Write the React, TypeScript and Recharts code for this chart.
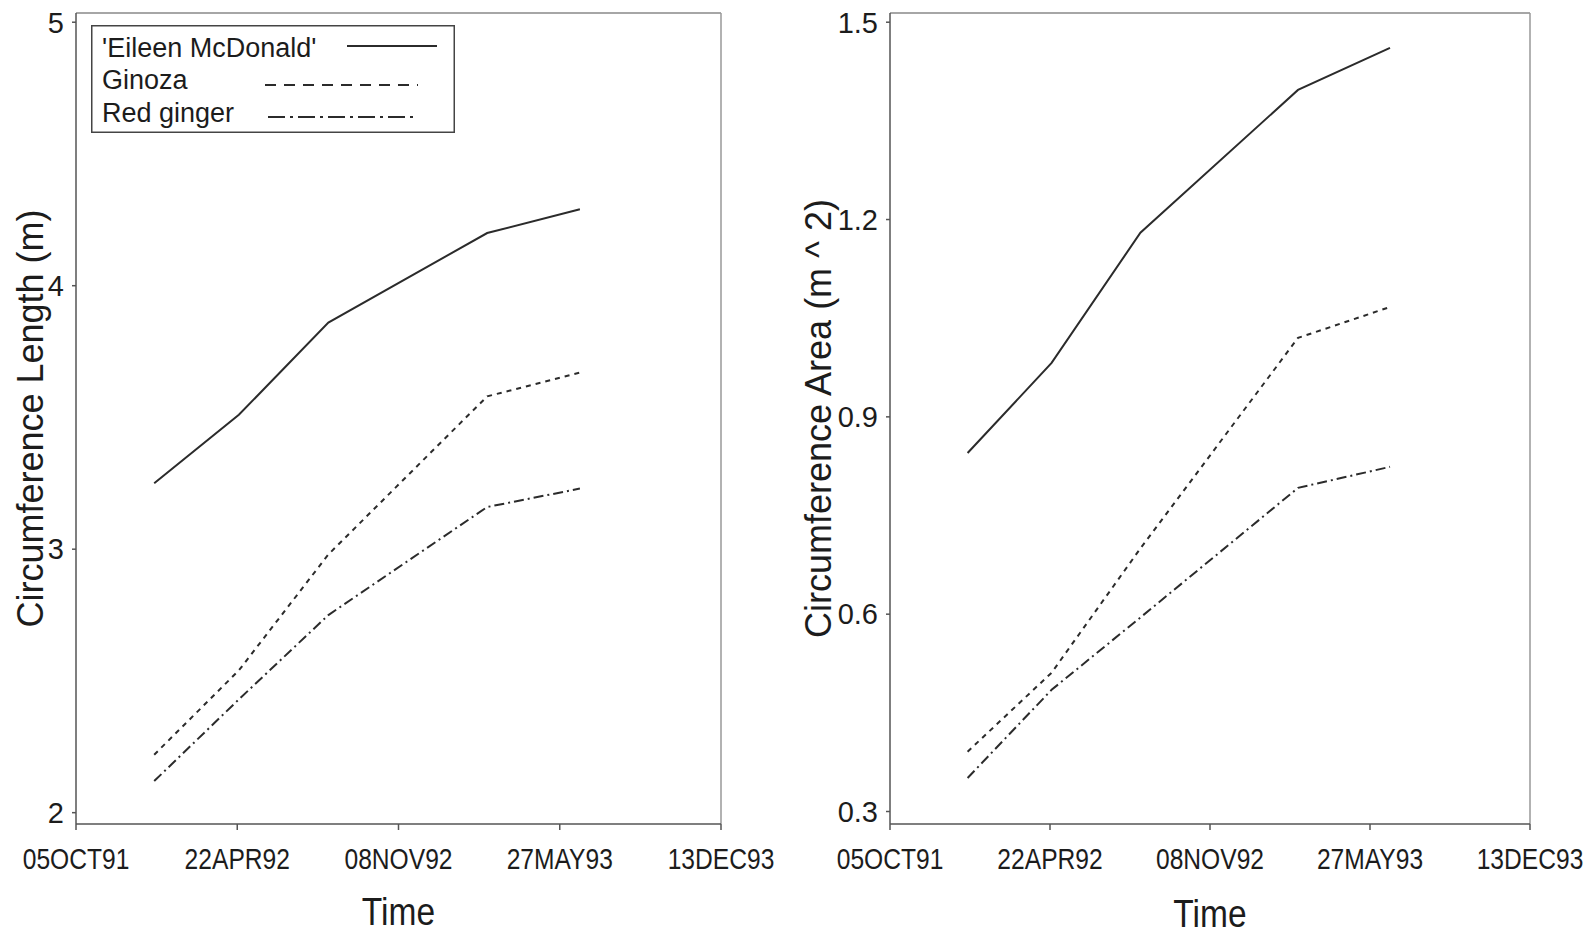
import { LineChart, Line, XAxis, YAxis, Legend, Label, ReferenceLine } from "recharts";

const MONTHS = ["JAN", "FEB", "MAR", "APR", "MAY", "JUN", "JUL", "AUG", "SEP", "OCT", "NOV", "DEC"];

const sampleDates = ["1992-01-10", "1992-04-24", "1992-08-13", "1993-02-26", "1993-06-21"];
const timeTicks = ["1991-10-05", "1992-04-22", "1992-11-08", "1993-05-27", "1993-12-13"];

const lengthEileen = [3.25, 3.51, 3.86, 4.2, 4.29];
const lengthGinoza = [2.22, 2.54, 2.98, 3.58, 3.67];
const lengthRed = [2.12, 2.43, 2.75, 3.16, 3.23];
const lengthTicks = [2, 3, 4, 5];

const areaEileen = [0.845, 0.982, 1.18, 1.397, 1.461];
const areaGinoza = [0.391, 0.511, 0.7, 1.02, 1.067];
const areaRed = [0.351, 0.485, 0.595, 0.792, 0.824];
const areaTicks = [0.3, 0.6, 0.9, 1.2, 1.5];

const seriesNames = ["'Eileen McDonald'", "Ginoza", "Red ginger"];

const toT = (s: string) => Date.parse(s + "T00:00:00Z");
const xTicks = timeTicks.map(toT);
const xDomain = [xTicks[0], xTicks[xTicks.length - 1]];

const fmtDate = (t: number) => {
  const d = new Date(t);
  return (
    String(d.getUTCDate()).padStart(2, "0") +
    MONTHS[d.getUTCMonth()] +
    String(d.getUTCFullYear()).slice(2)
  );
};

const lengthData = sampleDates.map((s, i) => ({
  t: toT(s),
  eileen: lengthEileen[i],
  ginoza: lengthGinoza[i],
  red: lengthRed[i],
}));

const areaData = sampleDates.map((s, i) => ({
  t: toT(s),
  eileen: areaEileen[i],
  ginoza: areaGinoza[i],
  red: areaRed[i],
}));

const INK = "#1c1c1c";
const LINE = "#2b2b2b";
const AXIS = "#555";
const SANS = "'Liberation Sans', Arial, sans-serif";

// the original uses a condensed face, so squeeze Liberation Sans horizontally
function DateTick(props: any) {
  const { x, y, payload } = props;
  return (
    <text
      transform={`translate(${x},${y + 39}) scale(0.82,1)`}
      textAnchor="middle"
      fontSize={30}
      fontFamily={SANS}
      fill={INK}
    >
      {fmtDate(payload.value)}
    </text>
  );
}

function TimeTitle(props: any) {
  const { viewBox, base } = props;
  const cx = viewBox.x + viewBox.width / 2;
  return (
    <text
      transform={`translate(${cx},${viewBox.y + base}) scale(0.86,1)`}
      textAnchor="middle"
      fontSize={39}
      fontFamily={SANS}
      fill={INK}
    >
      Time
    </text>
  );
}

function LegendBox() {
  return (
    <svg width={364} height={108} style={{ display: "block" }}>
      <rect x={0.75} y={0.75} width={362.5} height={106.5} fill="#fff" stroke="#444" strokeWidth={1.5} />
      <g fontFamily={SANS} fontSize={27} fill={INK}>
        <text x={11} y={32}>{seriesNames[0]}</text>
        <text x={11} y={64}>{seriesNames[1]}</text>
        <text x={11} y={97}>{seriesNames[2]}</text>
      </g>
      <line x1={256} x2={346} y1={21} y2={21} stroke={LINE} strokeWidth={2} />
      <line x1={174} x2={327} y1={60} y2={60} stroke={LINE} strokeWidth={2} strokeDasharray="11 8" />
      <line x1={177} x2={327} y1={92} y2={92} stroke={LINE} strokeWidth={2} strokeDasharray="17 5 3 5" />
    </svg>
  );
}

type PanelProps = {
  data: any[];
  width: number;
  yDomain: number[];
  yTicks: number[];
  yFmt: (v: number) => string;
  yTitle: string;
  margin: { top: number; right: number; bottom: number; left: number };
  yAxisWidth: number;
  yTitleOffset: number;
  timeBase: number;
  showLegend?: boolean;
};

function Panel(p: PanelProps) {
  return (
    <LineChart width={p.width} height={936} data={p.data} margin={p.margin}>
      <XAxis
        dataKey="t"
        type="number"
        domain={xDomain}
        ticks={xTicks}
        allowDataOverflow
        height={40}
        stroke={AXIS}
        strokeWidth={1.5}
        tickSize={6}
        tickMargin={0}
        tick={<DateTick />}
        interval={0}
      >
        <Label content={(lp: any) => <TimeTitle viewBox={lp.viewBox} base={p.timeBase} />} />
      </XAxis>
      <YAxis
        type="number"
        domain={p.yDomain}
        ticks={p.yTicks}
        tickFormatter={p.yFmt}
        allowDataOverflow
        width={p.yAxisWidth}
        stroke={AXIS}
        strokeWidth={1.5}
        tickSize={4}
        tickMargin={8}
        tick={{ fill: INK, fontSize: 29, fontFamily: SANS }}
        interval={0}
      >
        <Label
          value={p.yTitle}
          angle={-90}
          position="insideLeft"
          offset={p.yTitleOffset}
          style={{ fill: INK, fontSize: 36, fontFamily: SANS, textAnchor: "middle" }}
        />
      </YAxis>
      <ReferenceLine y={p.yDomain[1]} stroke="#888" strokeWidth={1.5} />
      <ReferenceLine x={xDomain[1]} stroke="#999" strokeWidth={1.5} />
      {p.showLegend && (
        <Legend
          layout="horizontal"
          verticalAlign="middle"
          align="center"
          wrapperStyle={{ left: 91, top: 25, width: 364, height: 108 }}
          content={() => <LegendBox />}
        />
      )}
      <Line type="linear" dataKey="eileen" stroke={LINE} strokeWidth={2} dot={false} isAnimationActive={false} />
      <Line type="linear" dataKey="ginoza" stroke={LINE} strokeWidth={2} strokeDasharray="5 5" dot={false} isAnimationActive={false} />
      <Line type="linear" dataKey="red" stroke={LINE} strokeWidth={2} strokeDasharray="10 4 2 4" dot={false} isAnimationActive={false} />
    </LineChart>
  );
}

export default function App() {
  return (
    <div style={{ position: "absolute", left: 0, top: 0, width: 1591, height: 936, background: "#fff" }}>
      <div style={{ position: "absolute", left: 0, top: 0 }}>
        <Panel
          data={lengthData}
          width={780}
          yDomain={[1.957, 5.035]}
          yTicks={lengthTicks}
          yFmt={(v) => String(v)}
          yTitle="Circumference Length (m)"
          margin={{ top: 13, right: 59, bottom: 72, left: 16 }}
          yAxisWidth={60}
          yTitleOffset={14}
          timeBase={101}
          showLegend
        />
      </div>
      <div style={{ position: "absolute", left: 780, top: 0 }}>
        <Panel
          data={areaData}
          width={811}
          yDomain={[0.281, 1.514]}
          yTicks={areaTicks}
          yFmt={(v) => v.toFixed(1)}
          yTitle="Circumference Area (m ^ 2)"
          margin={{ top: 13, right: 61, bottom: 72, left: 50 }}
          yAxisWidth={60}
          yTitleOffset={-12}
          timeBase={103}
        />
      </div>
    </div>
  );
}
